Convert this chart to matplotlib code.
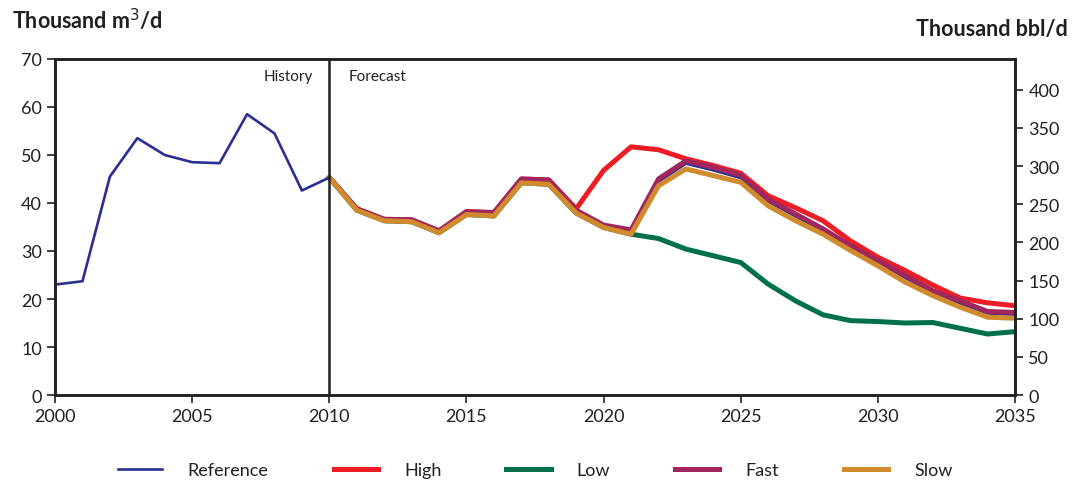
import numpy as np
import matplotlib
matplotlib.use('Agg')
import matplotlib.pyplot as plt

plt.rcParams['font.family'] = ['Lato', 'DejaVu Sans']

years_hist = list(range(2000, 2011))
ref_hist = [23.0, 23.7, 45.5, 53.5, 50.0, 48.5, 48.3, 58.5, 54.5, 42.6, 45.3]

years_fc = list(range(2010, 2036))
slow = [45.3, 38.5, 36.3, 36.1, 33.8, 37.6, 37.3, 44.2, 43.9, 37.9, 34.9, 33.5,
        43.6, 47.1, 45.7, 44.3, 39.4, 36.3, 33.5, 30.1, 26.9, 23.5, 20.7, 18.3, 16.2, 16.0]
fast = [45.3, 38.8, 36.6, 36.5, 34.2, 38.2, 38.0, 45.0, 44.8, 38.5, 35.4, 34.4,
        45.0, 48.8, 47.4, 45.8, 40.8, 37.7, 34.6, 31.1, 28.0, 24.9, 21.7, 19.6, 17.4, 17.2]
ref_fc = [45.3, 38.7, 36.5, 36.3, 34.0, 37.9, 37.6, 44.6, 44.3, 38.2, 35.1, 34.0,
          44.4, 48.2, 46.8, 45.2, 40.3, 37.2, 34.2, 30.8, 27.6, 24.4, 21.3, 19.1, 17.0, 16.7]
high = [45.3, 38.8, 36.6, 36.5, 34.2, 38.2, 38.0, 45.0, 44.8, 38.8, 46.8, 51.7,
        51.1, 49.2, 47.8, 46.2, 41.5, 39.0, 36.3, 32.1, 28.7, 25.9, 22.9, 20.2, 19.2, 18.6]
low = [45.3, 38.5, 36.3, 36.1, 33.8, 37.6, 37.3, 44.2, 43.9, 37.9, 34.9, 33.5,
       32.6, 30.4, 29.0, 27.6, 23.1, 19.6, 16.7, 15.5, 15.3, 15.0, 15.1, 13.9, 12.7, 13.2]

c_ref = '#2b2f8f'
c_high = '#ee1c25'
c_low = '#00704a'
c_fast = '#a0275e'
c_slow = '#d18b2c'

fig = plt.figure(figsize=(10.73, 4.85), dpi=100)
ax = fig.add_axes([0.0513, 0.1835, 0.8947, 0.6928])

ax.plot(years_hist, ref_hist, color=c_ref, lw=1.9, label='Reference', zorder=3)
ax.plot(years_fc, ref_fc, color=c_ref, lw=1.9, zorder=2)
ax.plot(years_fc, high, color=c_high, lw=3.6, label='High', zorder=2.1)
ax.plot(years_fc, low, color=c_low, lw=3.6, label='Low', zorder=2.2)
ax.plot(years_fc, fast, color=c_fast, lw=3.6, label='Fast', zorder=2.3)
ax.plot(years_fc, slow, color=c_slow, lw=3.6, label='Slow', zorder=2.4)

ax.axvline(2010, color='#231f20', lw=1.8, zorder=4)
ax.text(2009.4, 66.5, 'History', ha='right', va='center', fontsize=11, color='#231f20')
ax.text(2010.7, 66.5, 'Forecast', ha='left', va='center', fontsize=11, color='#231f20')

ax.set_xlim(2000, 2035)
ax.set_ylim(0, 70)
ax.set_xticks(range(2000, 2036, 5))
ax.set_yticks(range(0, 71, 10))

ax2 = ax.twinx()
ax2.set_ylim(0, 70 * 6.29)
ax2.set_yticks(range(0, 401, 50))

for a in (ax, ax2):
    for s in a.spines.values():
        s.set_linewidth(1.8)
        s.set_color('#231f20')
    a.tick_params(labelsize=13, width=1.2, length=6, color='#231f20', labelcolor='#231f20')

fig.text(0.011, 0.958, 'Thousand m$^3$/d', fontsize=15.5, fontweight='bold',
         color='#231f20', ha='left', va='center')
fig.text(0.995, 0.94, 'Thousand bbl/d', fontsize=15.5, fontweight='bold',
         color='#231f20', ha='right', va='center')

fig.legend(loc='center', bbox_to_anchor=(0.4986, 0.029), ncol=5, frameon=False,
           fontsize=13, handlelength=2.45, handletextpad=1.44, columnspacing=3.6,
           labelcolor='#231f20')

fig.savefig('out.png', dpi=100)
